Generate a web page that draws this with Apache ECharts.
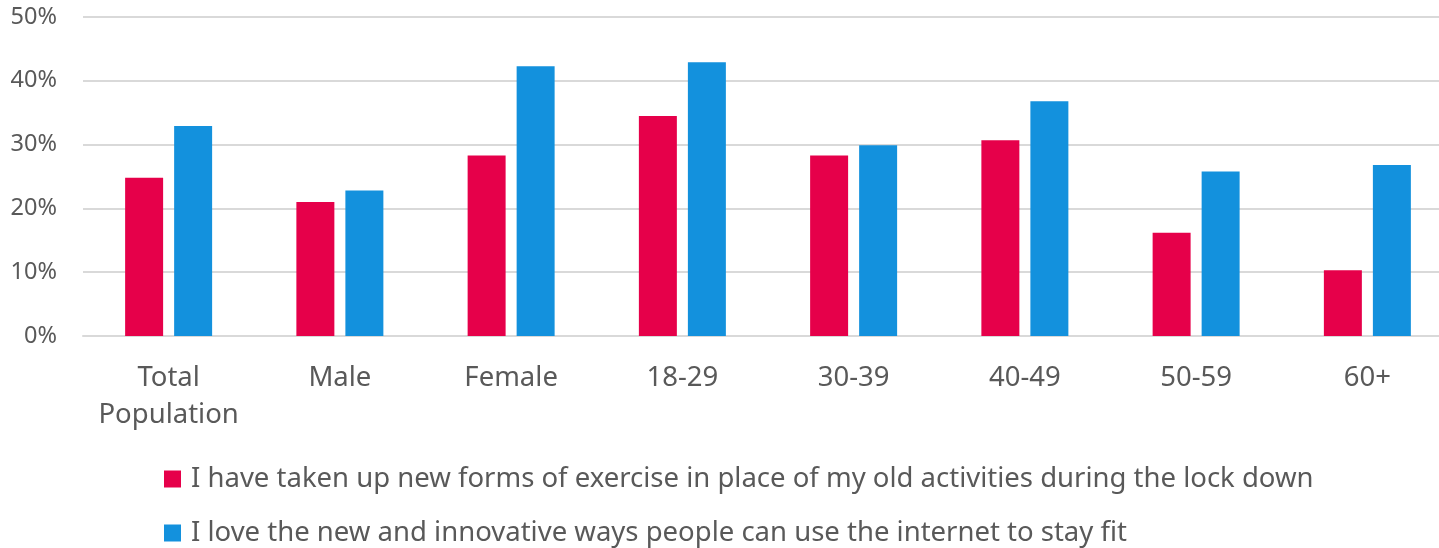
<!DOCTYPE html>
<html>
<head>
<meta charset="utf-8">
<script src="https://cdn.jsdelivr.net/npm/echarts@6/dist/echarts.min.js"></script>
<style>html,body{margin:0;padding:0;background:#fff;overflow:hidden;width:1439px;height:548px}#c{width:1456px;height:548px}</style>
</head>
<body>
<div id="c"></div>
<script>
const categories = ['Total\nPopulation', 'Male', 'Female', '18-29', '30-39', '40-49', '50-59', '60+'];
const seriesNames = [
  'I have taken up new forms of exercise in place of my old activities during the lock down',
  'I love the new and innovative ways people can use the internet to stay fit'
];
const exerciseValues = [24.8, 21.0, 28.3, 34.5, 28.3, 30.7, 16.2, 10.3];
const internetValues = [32.9, 22.8, 42.3, 42.9, 29.9, 36.8, 25.8, 26.8];
const yTicks = [0, 10, 20, 30, 40, 50];

const FONT = 'Noto Sans';
const TXT = '#595959';
const legendBase = {
  orient: 'vertical', left: 164, padding: 0,
  itemWidth: 17, itemHeight: 17, itemGap: 10,
  icon: 'rect',
  textStyle: {fontFamily: FONT, fontSize: 27.5, color: TXT, lineHeight: 30, padding: [0, 0, 0, 5]}
};
const chart = echarts.init(document.getElementById('c'), null, {renderer: 'canvas'});
chart.setOption({
  animation: false,
  grid: {left: 83, right: 3, top: 17, bottom: 212, containLabel: false},
  legend: [
    Object.assign({}, legendBase, {top: 464, data: [seriesNames[0]]}),
    Object.assign({}, legendBase, {top: 518, data: [seriesNames[1]]})
  ],
  xAxis: {
    type: 'category', data: categories,
    axisLine: {show: true, lineStyle: {color: '#d9d9d9', width: 2}},
    axisTick: {show: false},
    axisLabel: {fontFamily: FONT, fontSize: 27.5, color: TXT, margin: 24, lineHeight: 37, interval: 0}
  },
  yAxis: {
    type: 'value', min: yTicks[0], max: yTicks[yTicks.length - 1], interval: 10,
    axisLine: {show: false}, axisTick: {show: false},
    splitLine: {lineStyle: {color: '#d9d9d9', width: 2}},
    axisLabel: {fontFamily: FONT, fontSize: 23.5, color: TXT, margin: 26, formatter: v => v + '%'}
  },
  series: [
    {name: seriesNames[0], type: 'bar', data: exerciseValues, itemStyle: {color: '#E6004A'},
     barCategoryGap: '49.2%', barGap: '29%'},
    {name: seriesNames[1], type: 'bar', data: internetValues, itemStyle: {color: '#1391DD'},
     barCategoryGap: '49.2%', barGap: '29%'}
  ]
});
</script>
</body>
</html>
